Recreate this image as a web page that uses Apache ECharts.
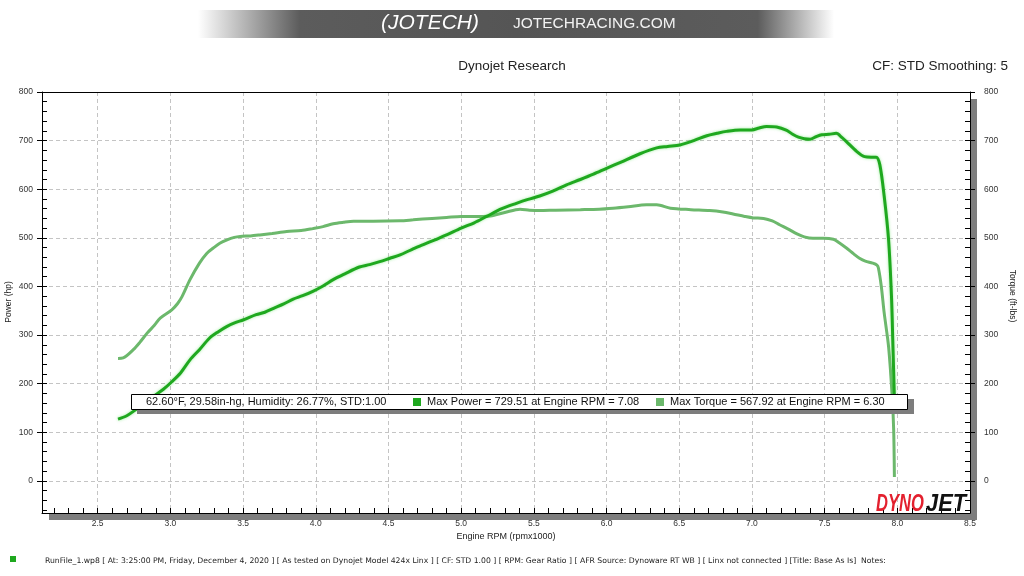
<!DOCTYPE html>
<html>
<head>
<meta charset="utf-8">
<script src="https://cdn.jsdelivr.net/npm/echarts@6/dist/echarts.min.js"></script>
<style>
html,body{margin:0;padding:0;background:#fff;}
#chart{width:1024px;height:576px;}
</style>
</head>
<body>
<div id="chart"></div>
<script>
// ---- data ----
const powerRpm = [2.64,2.70,2.745,2.80,2.88,2.95,3.01,3.07,3.135,3.20,3.27,3.33,3.39,3.45,3.50,3.59,3.65,3.71,3.78,3.845,3.91,3.98,4.05,4.12,4.20,4.30,4.37,4.44,4.51,4.58,4.66,4.74,4.82,4.90,5.00,5.09,5.175,5.28,5.38,5.46,5.54,5.63,5.725,5.82,5.91,6.00,6.10,6.23,6.345,6.42,6.505,6.60,6.69,6.76,6.825,6.92,7.00,7.05,7.10,7.17,7.24,7.28,7.32,7.36,7.40,7.44,7.48,7.53,7.58,7.62,7.65,7.72,7.775,7.82,7.855,7.88,7.91,7.94,7.96,7.97,7.98];
const powerHp = [127,134,143,155,173,188,204,222,249,270,294,307,318,326,331,342,347,355,364,374,381,390,401,414,426,440,445,451,458,465,476,486,496,506,520,531,544,560,571,579,586,596,609,620,631,643,656,673,685,688,691,700,710,715,719,722,722,726,729,728,721,713,707,704,703,708,712,713,715,706,698,678,667,666,666,650,585,496,379,276,170];
const torqueRpm = [2.64,2.675,2.745,2.79,2.84,2.89,2.93,3.01,3.05,3.08,3.135,3.20,3.25,3.295,3.34,3.39,3.44,3.48,3.55,3.615,3.70,3.80,3.90,3.98,4.05,4.12,4.19,4.26,4.395,4.58,4.67,4.80,4.90,5.00,5.13,5.20,5.30,5.405,5.47,5.54,5.65,5.82,5.95,6.045,6.15,6.275,6.345,6.44,6.58,6.71,6.80,6.87,6.95,7.01,7.08,7.14,7.19,7.25,7.31,7.36,7.42,7.49,7.56,7.60,7.65,7.70,7.74,7.78,7.83,7.86,7.87,7.89,7.91,7.94,7.965,7.975,7.98];
const torqueLbft = [252,253,270,285,304,320,335,352,365,379,414,448,468,479,489,496,501,503,504,506,509,513,515,519,523,529,532,534,534,535,537,540,542,544,544,545,552,559,557,556,557,558,559,561,564,568,568,561,558,556,553,549,544,541,540,535,527,518,508,502,499,499,497,490,479,467,458,452,448,444,438,400,345,276,173,105,8];

const xTickLabels = [2.5,3.0,3.5,4.0,4.5,5.0,5.5,6.0,6.5,7.0,7.5,8.0,8.5];
const yTickLabels = [0,100,200,300,400,500,600,700,800];

const seriesNames = ['Power (hp)','Torque (ft-lbs)'];
const xAxisName = 'Engine RPM (rpmx1000)';
const conditionsText = '62.60°F, 29.58in-hg, Humidity: 26.77%, STD:1.00';
const maxPowerText = 'Max Power = 729.51 at Engine RPM = 7.08';
const maxTorqueText = 'Max Torque = 567.92 at Engine RPM = 6.30';
const titleText = 'Dynojet Research';
const subTitleText = 'CF: STD Smoothing: 5';
const footerText = 'RunFile_1.wp8 [ At: 3:25:00 PM, Friday, December 4, 2020 ] [ As tested on Dynojet Model 424x Linx ] [ CF: STD 1.00 ] [ RPM: Gear Ratio ] [ AFR Source: Dynoware RT WB ] [ Linx not connected ] [Title: Base As Is]  Notes:';

// ---- styling / layout ----
const X_MIN = 2.117, X_MAX = 8.5;
const Y_MIN = -66, Y_MAX = 800;
const POWER_COLOR = '#1fa81f';
const TORQUE_COLOR = '#6cb86c';

const xMinorTicks = [];
for (let k = 22; k <= 84; k++) xMinorTicks.push(k / 10);
const yMinorTicks = [];
for (let k = -3; k <= 39; k++) yMinorTicks.push(k * 20);

const powerData = powerRpm.map((r, i) => [r, powerHp[i]]);
const torqueData = torqueRpm.map((r, i) => [r, torqueLbft[i]]);

const FONT = 'Liberation Sans, Arial, sans-serif';
const axisFont = {fontFamily: FONT, fontSize: 8.5, color: '#333'};
const dash = {color: '#c4c4c4', width: 1, type: [4, 3]};
const black = {color: '#000', width: 1};

const chart = echarts.init(document.getElementById('chart'));
chart.setOption({
  animation: false,
  backgroundColor: '#fff',
  grid: {left: 42, right: 54, top: 92, bottom: 63, containLabel: false, outerBoundsMode: 'none'},
  xAxis: [
    {
      type: 'value', min: X_MIN, max: X_MAX, position: 'bottom',
      axisLine: {show: true, onZero: false, lineStyle: black},
      axisTick: {show: false, customValues: xTickLabels.slice(0, -1)},
      axisLabel: {customValues: xTickLabels, formatter: v => v.toFixed(1), margin: 6, ...axisFont},
      splitLine: {show: true, lineStyle: dash}
    },
    {
      type: 'value', min: X_MIN, max: X_MAX, position: 'bottom',
      axisLine: {show: false, onZero: false},
      axisTick: {show: true, inside: true, length: 5, customValues: xMinorTicks, lineStyle: black},
      axisLabel: {show: false}, splitLine: {show: false}
    },
    {
      type: 'value', min: X_MIN, max: X_MAX, position: 'top',
      axisLine: {show: true, onZero: false, lineStyle: black},
      axisTick: {show: false}, axisLabel: {show: false}, splitLine: {show: false}
    }
  ],
  yAxis: [
    {
      type: 'value', min: Y_MIN, max: Y_MAX, position: 'left',
      axisLine: {show: true, onZero: false, lineStyle: black},
      axisTick: {show: true, inside: false, length: 5, customValues: yTickLabels, lineStyle: black},
      axisLabel: {customValues: yTickLabels, margin: 9, ...axisFont},
      splitLine: {show: true, lineStyle: dash}
    },
    {
      type: 'value', min: Y_MIN, max: Y_MAX, position: 'right',
      axisLine: {show: true, onZero: false, lineStyle: black},
      axisTick: {show: true, inside: false, length: 5, customValues: yTickLabels, lineStyle: black},
      axisLabel: {customValues: yTickLabels, margin: 14, ...axisFont},
      splitLine: {show: false}
    },
    {
      type: 'value', min: Y_MIN, max: Y_MAX, position: 'left',
      axisLine: {show: false, onZero: false},
      axisTick: {show: true, inside: true, length: 5, customValues: yMinorTicks, lineStyle: black},
      axisLabel: {show: false}, splitLine: {show: false}
    },
    {
      type: 'value', min: Y_MIN, max: Y_MAX, position: 'right',
      axisLine: {show: false, onZero: false},
      axisTick: {show: true, inside: true, length: 5, customValues: yMinorTicks, lineStyle: black},
      axisLabel: {show: false}, splitLine: {show: false}
    }
  ],
  series: [
    {
      name: seriesNames[1], type: 'line', xAxisIndex: 0, yAxisIndex: 1,
      data: torqueData, showSymbol: false, smooth: 0.3, z: 3,
      lineStyle: {color: TORQUE_COLOR, width: 3}
    },
    {
      name: seriesNames[0], type: 'line', xAxisIndex: 0, yAxisIndex: 0,
      data: powerData, showSymbol: false, smooth: 0.3, z: 4,
      lineStyle: {color: POWER_COLOR, width: 3, shadowBlur: 3, shadowColor: 'rgba(60,220,60,0.5)'}
    }
  ],
  graphic: [
    // top banner
    {type: 'rect', z: -5, shape: {x: 198, y: 10, width: 636, height: 28},
     style: {fill: {type: 'linear', x: 0, y: 0, x2: 1, y2: 0, colorStops: [
       {offset: 0, color: 'rgba(255,255,255,1)'},
       {offset: 0.16, color: '#5c5c5c'},
       {offset: 0.5, color: '#555'},
       {offset: 0.88, color: '#5c5c5c'},
       {offset: 1, color: 'rgba(255,255,255,1)'}]}}},
    {type: 'text', z: 5, style: {x: 430, y: 23, text: '(JOTECH)', fill: '#fff', font: 'italic 21px ' + FONT, align: 'center', verticalAlign: 'middle'}},
    {type: 'text', z: 5, style: {x: 513, y: 24, text: 'JOTECHRACING.COM', fill: '#f2f2f2', font: '15.5px ' + FONT, align: 'left', verticalAlign: 'middle'}},
    // titles
    {type: 'text', z: 5, style: {x: 512, y: 66, text: titleText, fill: '#222', font: '13.5px ' + FONT, align: 'center', verticalAlign: 'middle'}},
    {type: 'text', z: 5, style: {x: 1008, y: 66, text: subTitleText, fill: '#222', font: '13.5px ' + FONT, align: 'right', verticalAlign: 'middle'}},
    // axis names
    {type: 'text', z: 5, x: 9, y: 302, rotation: Math.PI / 2, style: {x: 0, y: 0, text: seriesNames[0], fill: '#222', font: '8.5px ' + FONT, align: 'center', verticalAlign: 'middle'}},
    {type: 'text', z: 5, x: 1012, y: 296, rotation: -Math.PI / 2, style: {x: 0, y: 0, text: seriesNames[1], fill: '#222', font: '8.5px ' + FONT, align: 'center', verticalAlign: 'middle'}},
    {type: 'text', z: 5, style: {x: 506, y: 537, text: xAxisName, fill: '#222', font: '9px ' + FONT, align: 'center', verticalAlign: 'middle'}},
    // plot shadow + background
    {type: 'rect', z: -3, shape: {x: 49, y: 99, width: 928, height: 421}, style: {fill: '#7d7d7d'}},
    {type: 'rect', z: -2, shape: {x: 42, y: 92, width: 928, height: 421}, style: {fill: '#fff'}},
    // legend box
    {type: 'rect', z: 20, shape: {x: 137, y: 399, width: 777, height: 15}, style: {fill: '#7d7d7d'}},
    {type: 'rect', z: 21, shape: {x: 131.5, y: 394.5, width: 776, height: 15}, style: {fill: '#fff', stroke: '#000', lineWidth: 1}},
    {type: 'text', z: 22, style: {x: 146, y: 402, text: conditionsText, fill: '#111', font: '11px ' + FONT, verticalAlign: 'middle'}},
    {type: 'rect', z: 22, shape: {x: 413, y: 398, width: 8, height: 8}, style: {fill: POWER_COLOR}},
    {type: 'text', z: 22, style: {x: 427, y: 402, text: maxPowerText, fill: '#111', font: '11px ' + FONT, verticalAlign: 'middle'}},
    {type: 'rect', z: 22, shape: {x: 656, y: 398, width: 8, height: 8}, style: {fill: TORQUE_COLOR}},
    {type: 'text', z: 22, style: {x: 670, y: 402, text: maxTorqueText, fill: '#111', font: '11px ' + FONT, verticalAlign: 'middle'}},
    // DYNOJET logo
    {type: 'text', z: 20, x: 876, y: 505, scaleX: 0.72, style: {x: 0, y: 0, text: 'DYNO', fill: '#e3202e', font: 'italic bold 23px ' + FONT, verticalAlign: 'middle'}},
    {type: 'text', z: 20, x: 926, y: 505, scaleX: 0.95, style: {x: 0, y: 0, text: 'JET', fill: '#111', font: 'italic bold 23px ' + FONT, verticalAlign: 'middle'}},
    // footer
    {type: 'rect', z: 5, shape: {x: 10, y: 556, width: 6, height: 6}, style: {fill: POWER_COLOR}},
    {type: 'text', z: 5, style: {x: 45, y: 561, text: footerText, fill: '#222', font: '7.7px DejaVu Sans, sans-serif', verticalAlign: 'middle'}}
  ]
});
</script>
</body>
</html>
